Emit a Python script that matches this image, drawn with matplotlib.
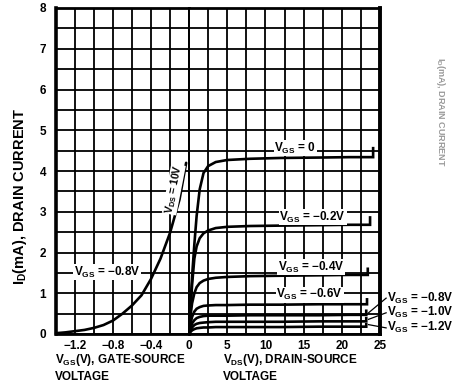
import matplotlib
matplotlib.use("Agg")
import matplotlib.pyplot as plt
import numpy as np

plt.rcParams['font.family'] = ['Liberation Sans', 'DejaVu Sans']
plt.rcParams['font.weight'] = 'bold'
plt.rcParams['mathtext.fontset'] = 'custom'
plt.rcParams['mathtext.rm'] = 'Liberation Sans:bold'
plt.rcParams['mathtext.it'] = 'Liberation Sans:bold'
plt.rcParams['mathtext.bf'] = 'Liberation Sans:bold'
plt.rcParams['axes.unicode_minus'] = True

# ---- data ----
# transfer characteristic (VDS = 10 V)
vgs_transfer = [-1.4, -1.3, -1.2, -1.1, -1.0, -0.9, -0.8, -0.7, -0.6, -0.5, -0.4, -0.3, -0.2, -0.1, -0.03]
id_transfer = [0.02, 0.04, 0.07, 0.10, 0.15, 0.22, 0.33, 0.50, 0.70, 0.95, 1.35, 1.85, 2.48, 3.30, 4.20]

# output characteristics
vds = [0, 0.2, 0.4, 0.7, 1.0, 1.4, 1.9, 2.5, 3.5, 5, 8, 12, 17, 21]
vgs_labels = ["0", "−0.2V", "−0.4V", "−0.6V", "−0.8V", "−1.0V", "−1.2V"]
id_vgs_0 = [0, 0.70, 1.40, 2.20, 2.90, 3.55, 3.95, 4.12, 4.22, 4.27, 4.30, 4.32, 4.33, 4.34]
id_vgs_m02 = [0, 0.60, 1.20, 1.85, 2.15, 2.35, 2.47, 2.54, 2.60, 2.63, 2.65, 2.66, 2.67, 2.68]
id_vgs_m04 = [0, 0.45, 0.75, 1.00, 1.15, 1.25, 1.31, 1.35, 1.38, 1.40, 1.42, 1.43, 1.44, 1.45]
id_vgs_m06 = [0, 0.25, 0.42, 0.55, 0.62, 0.66, 0.69, 0.70, 0.71, 0.71, 0.72, 0.72, 0.73, 0.73]
id_vgs_m08 = [0, 0.15, 0.26, 0.34, 0.39, 0.42, 0.44, 0.45, 0.45, 0.45, 0.46, 0.46, 0.46, 0.47]
id_vgs_m10 = [0, 0.09, 0.16, 0.22, 0.25, 0.27, 0.28, 0.29, 0.30, 0.30, 0.30, 0.30, 0.31, 0.31]
id_vgs_m12 = [0, 0.05, 0.09, 0.12, 0.14, 0.15, 0.16, 0.16, 0.17, 0.17, 0.17, 0.17, 0.18, 0.18]
id_curves = [id_vgs_0, id_vgs_m02, id_vgs_m04, id_vgs_m06, id_vgs_m08, id_vgs_m10, id_vgs_m12]
vds_end = [24.1, 23.7, 23.4, 23.3, 23.2, 23.2, 23.2]
id_end_rise = [0.22, 0.18, 0.15, 0.12, 0.10, 0.08, 0.06]

y_ticks = [0, 1, 2, 3, 4, 5, 6, 7, 8]
left_tick_labels = ["−1.2", "−0.8", "−0.4"]
left_tick_vals = [-1.2, -0.8, -0.4]
right_tick_vals = [0, 5, 10, 15, 20, 25]

# ---- figure ----
fig = plt.figure(figsize=(4.53, 3.88), dpi=100)
W, H = 453, 388
x0, xm, x1 = 56, 189, 380
ytop, ybot = 8, 334
ax1 = fig.add_axes([x0 / W, (H - ybot) / H, (xm - x0) / W, (ybot - ytop) / H])
ax2 = fig.add_axes([xm / W, (H - ybot) / H, (x1 - xm) / W, (ybot - ytop) / H])

grid_lw = 1.3
curve_lw = 1.9
fs = 8.5
for ax in (ax1, ax2):
    ax.set_ylim(0, 8)
    ax.set_yticks(np.arange(0, 8.01, 0.5))
    ax.grid(True, color='black', lw=grid_lw)
    ax.tick_params(length=0, labelsize=fs, pad=4)
    for s in ax.spines.values():
        s.set_color('black')

ax1.set_xlim(-1.4, 0)
xt1 = np.round(np.arange(-1.4, 0.001, 0.2), 2)
ax1.set_xticks(xt1)
labs1 = []
for v in xt1:
    match = [abs(v - t) < 1e-6 for t in left_tick_vals]
    labs1.append(left_tick_labels[match.index(True)] if any(match) else "")
ax1.set_xticklabels(labs1)
ax1.set_yticklabels([str(int(v)) if v in y_ticks else "" for v in np.arange(0, 8.01, 0.5)])
ax1.tick_params(axis='y', pad=7)

ax2.set_xlim(0, 25)
xt2 = np.arange(0, 25.01, 2.5)
ax2.set_xticks(xt2)
ax2.set_xticklabels([str(int(v)) if v in right_tick_vals else "" for v in xt2])
ax2.set_yticklabels([])

ax1.spines['left'].set_linewidth(2.6)
ax1.spines['top'].set_linewidth(2.0)
ax1.spines['bottom'].set_linewidth(2.0)
ax1.spines['right'].set_linewidth(grid_lw)
ax2.spines['right'].set_linewidth(2.8)
ax2.spines['top'].set_linewidth(2.0)
ax2.spines['bottom'].set_linewidth(2.0)
ax2.spines['left'].set_linewidth(grid_lw)

# transfer curve
ax1.plot(vgs_transfer, id_transfer, color='black', lw=curve_lw, solid_capstyle='round', clip_on=False)
ax1.text(-0.16, 3.55, r"V$_{\mathrm{DS}}$ = 10V", rotation=79, fontsize=7.5, ha='center', va='center',
         bbox=dict(facecolor='white', edgecolor='none', pad=0.3))
ax1.text(-0.86, 1.52, r"V$_{\mathrm{GS}}$ = −0.8V", fontsize=fs, ha='center', va='center',
         bbox=dict(facecolor='white', edgecolor='none', pad=0.5))

# output curves
for ids, ve, rise in zip(id_curves, vds_end, id_end_rise):
    xs = list(vds) + [ve, ve]
    ys = list(ids) + [ids[-1], ids[-1] + rise]
    ax2.plot(xs, ys, color='black', lw=curve_lw, solid_joinstyle='miter')

label_pos = [(13.9, 4.56), (16.2, 2.87), (16.0, 1.64), (15.8, 0.96)]
for k, (lx, ly) in enumerate(label_pos):
    ax2.text(lx, ly, r"V$_{\mathrm{GS}}$ = " + vgs_labels[k], fontsize=fs, ha='center', va='center',
             bbox=dict(facecolor='white', edgecolor='none', pad=0.5))

right_label_y = [0.88, 0.52, 0.15]
for k, yl in zip([4, 5, 6], right_label_y):
    ax2.text(25.9, yl, r"V$_{\mathrm{GS}}$ = " + vgs_labels[k], fontsize=fs, ha='left', va='center',
             clip_on=False)
    ax2.plot([vds_end[k] + 0.3, 25.8], [id_curves[k][-1] + 0.05, yl], color='black', lw=0.9,
             clip_on=False)

# axis titles
fig.text(55 / W, 1 - 360 / H, r"V$_{\mathrm{GS}}$(V), GATE-SOURCE", fontsize=fs, ha='left', va='center')
fig.text(55 / W, 1 - 377 / H, "VOLTAGE", fontsize=fs, ha='left', va='center')
fig.text(223 / W, 1 - 360 / H, r"V$_{\mathrm{DS}}$(V), DRAIN-SOURCE", fontsize=fs, ha='left', va='center')
fig.text(223 / W, 1 - 377 / H, "VOLTAGE", fontsize=fs, ha='left', va='center')
fig.text(20 / W, 1 - 196 / H, r"I$_{\mathrm{D}}$(mA), DRAIN CURRENT", fontsize=10.5, rotation=90,
         ha='center', va='center')
# faint bleed-through from adjacent page chart
fig.text(441 / W, 1 - 112 / H, r"I$_{\mathrm{D}}$(mA), DRAIN CURRENT", fontsize=6.5, rotation=270,
         ha='center', va='center', color='#999999')

fig.savefig("out.png", dpi=100)
